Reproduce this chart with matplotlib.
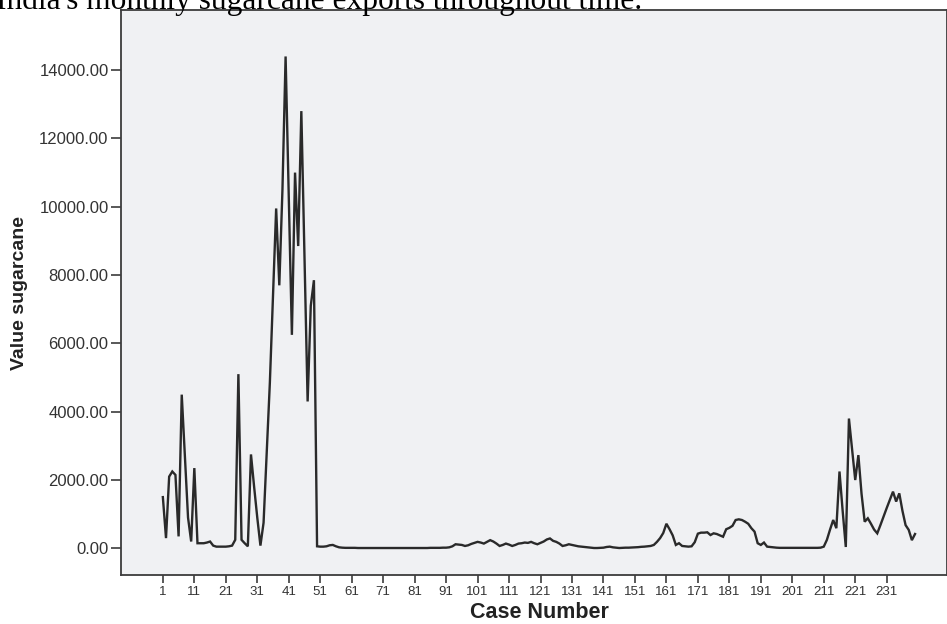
import numpy as np
import matplotlib
matplotlib.use('Agg')
import matplotlib.pyplot as plt

# monthly sugarcane export values (cases 1..240)
vals_001_050 = [1500, 300, 2100, 2250, 2150, 350, 4500, 2700, 900, 200,
                2350, 150, 150, 150, 170, 200, 80, 50, 50, 50,
                50, 60, 80, 250, 5100, 250, 150, 60, 2750, 1800,
                900, 80, 750, 2800, 4850, 7400, 9950, 7700, 10500, 14400,
                10300, 6250, 11000, 8850, 12800, 8600, 4300, 7100, 7850, 60]
vals_051_100 = [50, 50, 60, 90, 100, 60, 30, 20, 15, 15,
                15, 15, 10, 10, 10, 10, 10, 10, 10, 10,
                10, 10, 10, 10, 10, 10, 10, 10, 10, 10,
                10, 10, 10, 10, 10, 15, 15, 15, 15, 20,
                20, 30, 60, 120, 110, 100, 70, 90, 130, 160]
vals_101_150 = [190, 170, 140, 190, 240, 200, 140, 70, 100, 140,
                110, 70, 100, 140, 150, 170, 160, 190, 150, 120,
                160, 200, 260, 290, 220, 190, 140, 70, 90, 120,
                100, 80, 60, 50, 40, 30, 20, 10, 10, 15,
                20, 40, 50, 30, 20, 10, 15, 20, 20, 25]
vals_151_200 = [30, 35, 45, 50, 60, 70, 100, 190, 300, 450,
                720, 560, 380, 100, 150, 70, 60, 50, 60, 180,
                430, 460, 460, 470, 390, 440, 420, 380, 340, 560,
                600, 660, 830, 850, 830, 780, 720, 590, 490, 150,
                100, 170, 50, 40, 30, 20, 15, 15, 15, 15]
vals_201_240 = [15, 15, 15, 15, 15, 15, 15, 15, 15, 20,
                50, 250, 550, 830, 590, 2250, 1100, 40, 3800, 2900,
                2000, 2730, 1600, 780, 880, 720, 550, 440, 680, 930,
                1180, 1420, 1660, 1370, 1610, 1100, 680, 540, 240, 420]

values = vals_001_050 + vals_051_100 + vals_101_150 + vals_151_200 + vals_201_240
cases = np.arange(1, len(values) + 1)

xticks = list(range(1, 232, 10))
yticks = [0, 2000, 4000, 6000, 8000, 10000, 12000, 14000]

title = "India's monthly sugarcane exports throughout time."

W, H = 947, 624
fig = plt.figure(figsize=(W / 100, H / 100), dpi=100)
fig.patch.set_facecolor('white')

# axes box in pixels: left 121, right 946.5, top 10, bottom 575
ax = fig.add_axes([121 / W, 1 - 575 / H, (946.5 - 121) / W, (575 - 10) / H])
ax.set_facecolor('#f0f1f3')

ax.plot(cases, values, color='#2a2a2a', lw=1.7, solid_joinstyle='miter')

ax.set_xlim(-12.3, 250)
ax.set_ylim(-780, 15760)

ax.set_xticks(xticks)
ax.set_xticklabels([str(t) for t in xticks], fontsize=9.5, family='Liberation Sans',
                   color='#333333')
ax.set_yticks(yticks)
ax.set_yticklabels(['%.2f' % t for t in yticks], fontsize=12, family='Liberation Sans',
                   color='#333333')
ax.tick_params(axis='x', length=6, width=1.2, pad=2, color='#3c3c3c')
ax.tick_params(axis='y', length=7.5, width=1.2, pad=1.5, color='#3c3c3c')

for s in ax.spines.values():
    s.set_color('#3c3c3c')
    s.set_linewidth(1.3)

fig.text(539 / W, 1 / H, 'Case Number', ha='center', va='bottom',
         fontsize=15.5, fontweight='bold', family='Liberation Sans', color='#222222')
fig.text(19 / W, 1 - 293.5 / H, 'Value sugarcane', ha='center', va='center',
         rotation=90, fontsize=14, fontweight='bold', family='Liberation Sans',
         color='#222222')

# title sits above the frame and is cut by the top edge, as in the source
fig.text(-4 / W, 1 - 8.5 / H, title, ha='left', va='baseline',
         fontsize=22.6, family='Liberation Serif', color='black')

fig.savefig('out.png', dpi=100)
